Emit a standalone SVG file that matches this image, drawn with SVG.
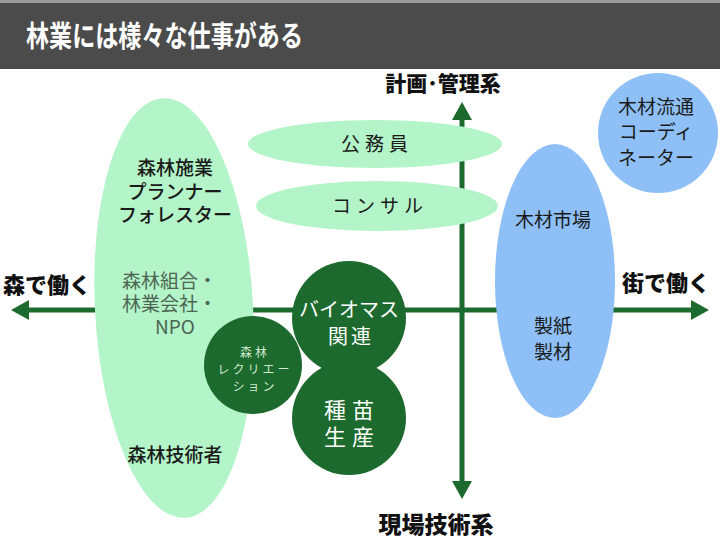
<svg xmlns="http://www.w3.org/2000/svg" width="720" height="540" viewBox="0 0 720 540">
<style>
.jp{font-family:"Noto Sans CJK JP","Noto Sans",sans-serif}
.lg{fill:#b3f4c8}
.dg{fill:#1c6a2d}
.bl{fill:#8ec0f7}
.ax{stroke:#1c6a2d;stroke-width:5;fill:none}
.ah{fill:#1c6a2d}
.axl{font-weight:900;fill:#111;text-anchor:middle}
.blk{fill:#1a1a1a;text-anchor:middle;font-size:19px}
.wt{fill:#ffffff;text-anchor:middle}
.gr{fill:#4d6552;font-size:19px}
.rc{fill:#cfe8cf;font-size:12px;text-anchor:middle}
</style>
<rect x="0" y="0" width="720" height="540" fill="#ffffff"/>
<rect x="0" y="0" width="720" height="3" fill="#9a9a9a"/>
<rect x="0" y="3" width="720" height="66" fill="#4b4b4b"/>
<text class="jp" x="26" y="47" font-size="29" font-weight="700" fill="#ffffff" textLength="277" lengthAdjust="spacingAndGlyphs">林業には様々な仕事がある</text>

<g id="connectors">
<line class="ax" x1="28" y1="310" x2="692" y2="310"/>
<polygon class="ah" points="11,310 29,300 29,320"/>
<polygon class="ah" points="709,310 691,300 691,320"/>
<line class="ax" x1="462" y1="118" x2="462" y2="484"/>
<polygon class="ah" points="462,102 452,120 472,120"/>
<polygon class="ah" points="462,499 452,481 472,481"/>
</g>

<g id="axis-labels">
<text class="jp axl" x="443" y="91" font-size="21">計画･管理系</text>
<text class="jp axl" x="436" y="533" font-size="23">現場技術系</text>
<text class="jp axl" x="47" y="293" font-size="22">森で働く</text>
<text class="jp axl" x="666" y="291" font-size="22">街で働く</text>
</g>

<g id="forest-workers">
<ellipse class="lg" cx="174" cy="308" rx="79" ry="210" transform="rotate(-3 174 308)"/>
<text class="jp blk" font-weight="500"><tspan x="175" y="175">森林施業</tspan><tspan x="175" y="199">プランナー</tspan><tspan x="175" y="222">フォレスター</tspan></text>
<text class="jp gr"><tspan x="122" y="288">森林組合・</tspan><tspan x="122" y="311">林業会社・</tspan><tspan x="175" y="334" text-anchor="middle">NPO</tspan></text>
<text class="jp blk" x="175" y="462" font-weight="500">森林技術者</text>
</g>

<g id="koumuin">
<ellipse class="lg" cx="375" cy="144" rx="127" ry="24"/>
<text class="jp blk" x="377" y="151" font-size="20" letter-spacing="5">公務員</text>
</g>

<g id="consul">
<ellipse class="lg" cx="377" cy="206" rx="121" ry="25"/>
<text class="jp blk" x="380" y="213" font-size="20" letter-spacing="5">コンサル</text>
</g>

<g id="biomass">
<circle class="dg" cx="349" cy="318" r="57"/>
<text class="jp wt" font-size="20"><tspan x="349" y="317">バイオマス</tspan><tspan x="351" y="344" letter-spacing="3">関連</tspan></text>
</g>

<g id="recreation">
<circle class="dg" cx="253" cy="365" r="49"/>
<text class="jp rc" letter-spacing="3"><tspan x="255" y="357">森林</tspan><tspan x="255" y="374">レクリエー</tspan><tspan x="255" y="391">ション</tspan></text>
</g>

<g id="seedling">
<circle class="dg" cx="349" cy="418" r="57"/>
<text class="jp wt" font-size="22" letter-spacing="6"><tspan x="352" y="418">種苗</tspan><tspan x="352" y="445">生産</tspan></text>
</g>

<g id="timber-market">
<ellipse class="bl" cx="555" cy="281" rx="60" ry="137"/>
<text class="jp blk" x="553" y="227">木材市場</text>
<text class="jp blk"><tspan x="553" y="333">製紙</tspan><tspan x="553" y="359">製材</tspan></text>
</g>

<g id="coordinator">
<circle class="bl" cx="658" cy="133" r="60"/>
<text class="jp blk"><tspan x="656" y="114">木材流通</tspan><tspan x="656" y="139">コーディ</tspan><tspan x="656" y="165">ネーター</tspan></text>
</g>
</svg>
